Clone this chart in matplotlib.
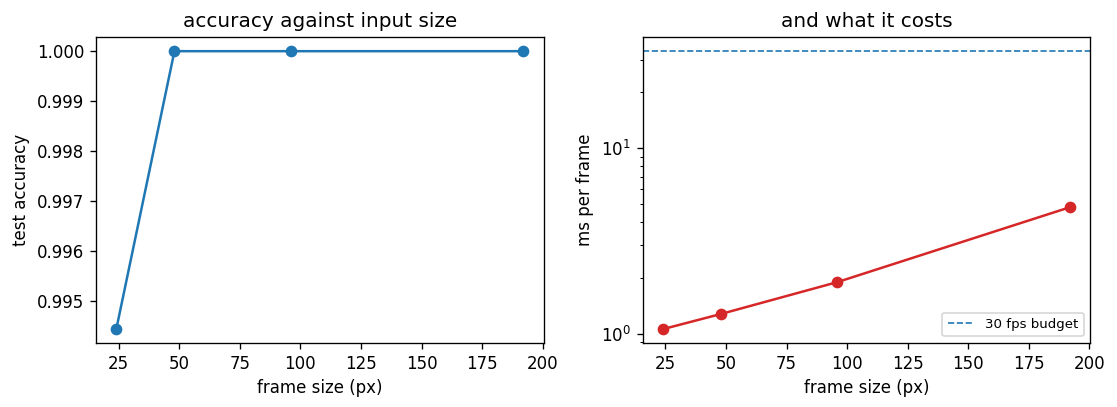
import matplotlib
matplotlib.use("Agg")
import matplotlib.pyplot as plt

# data
frame_size = [24, 48, 96, 192]
test_accuracy = [0.99444, 1.0, 1.0, 1.0]
ms_per_frame = [1.06, 1.28, 1.90, 4.81]
budget_ms = 1000 / 30

dpi = 120
fig, (ax1, ax2) = plt.subplots(1, 2, figsize=(1117 / dpi, 407 / dpi), dpi=dpi)
fig.subplots_adjust(left=0.0859, right=0.9761, top=0.9084, bottom=0.1572, wspace=0.2212)

ax1.plot(frame_size, test_accuracy, marker="o", color="tab:blue")
ax1.set_title("accuracy against input size")
ax1.set_xlabel("frame size (px)")
ax1.set_ylabel("test accuracy")

ax2.plot(frame_size, ms_per_frame, marker="o", color="tab:red")
ax2.axhline(budget_ms, linestyle="--", linewidth=1, color="tab:blue", label="30 fps budget")
ax2.set_yscale("log")
ax2.set_title("and what it costs")
ax2.set_xlabel("frame size (px)")
ax2.set_ylabel("ms per frame")
ax2.legend(loc="lower right", fontsize=8)

fig.savefig("out.png", dpi=dpi)
